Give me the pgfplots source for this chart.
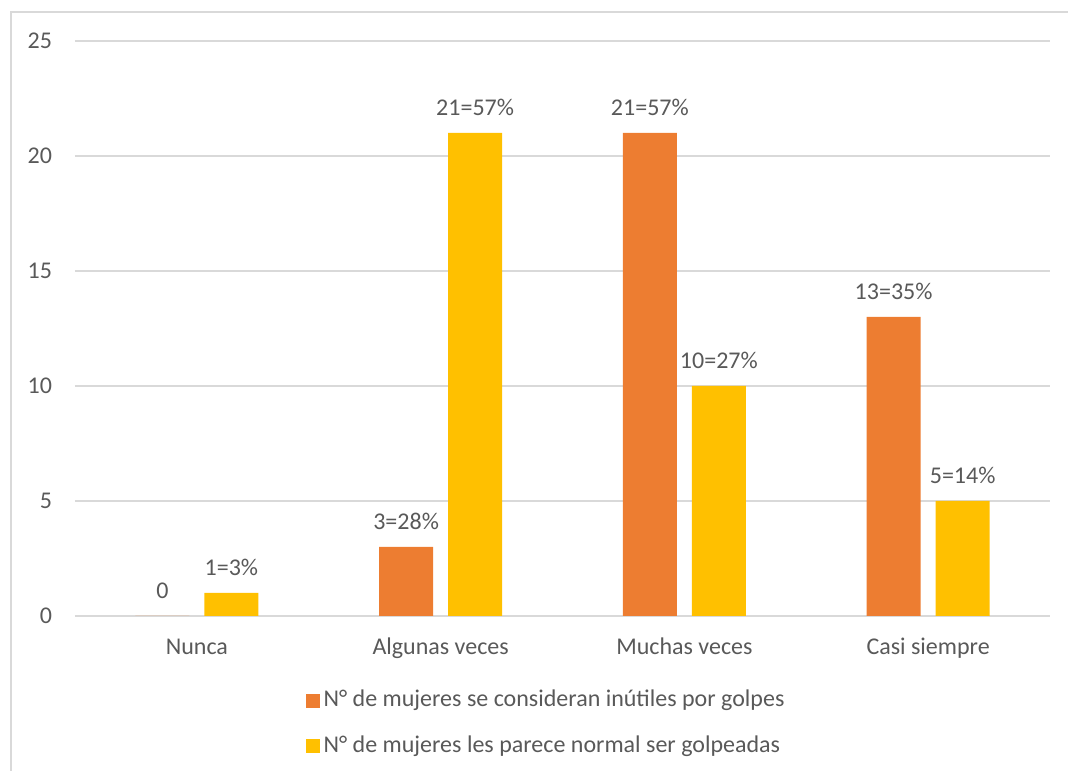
\documentclass[border=0pt]{standalone}
\usepackage{fontspec}
\setmainfont{Carlito}
\usepackage{pgfplots}
\pgfplotsset{compat=1.18}
\definecolor{barorange}{HTML}{ED7D31}
\definecolor{baryellow}{HTML}{FFC000}
\definecolor{txtgray}{HTML}{595959}
\definecolor{gridgray}{HTML}{D9D9D9}

\begin{document}
\begin{tikzpicture}
\begin{axis}[
    scale only axis,
    width=731.25pt, height=431.25pt,
    ybar, bar width=40.5pt,
    xmin=-0.5, xmax=3.5, ymin=0, ymax=25,
    enlargelimits=false,
    xtick={0,1,2,3},
    xticklabels={Nunca, Algunas veces, Muchas veces, Casi siempre},
    ytick={0,5,10,15,20,25},
    ymajorgrids,
    grid style={color=gridgray, line width=1.1pt},
    axis line style={draw=none},
    major tick length=0pt,
    tick style={draw=none},
    font=\fontsize{18pt}{22pt}\selectfont,
    /pgf/number format/assume math mode=true,
    tick label style={text=txtgray, inner sep=0pt},
    xticklabel style={anchor=base, yshift=-29pt},
    yticklabel style={anchor=east, xshift=-17pt},
    nodes near coords,
    point meta=explicit symbolic,
    every node near coord/.append style={text=txtgray, anchor=south, inner sep=0pt, yshift=13pt},
    clip=false,
    legend image code/.code={\fill[#1] (0pt,-5.25pt) rectangle (10.5pt,5.25pt);},
    legend style={at={(0.237,-0.187)}, anchor=west, draw=none, fill=none,
      inner sep=0pt, row sep=14pt, legend cell align=left, text=txtgray,
      nodes={inner xsep=2.5pt, inner ysep=1.5pt, text height=13pt, text depth=4pt}},
    legend columns=1,
]
\addplot[fill=barorange, draw=none, bar shift=-25.875pt] coordinates {
  (0,0) [0]
  (1,3) [3=28\%]
  (2,21) [21=57\%]
  (3,13) [13=35\%]
};
\addplot[fill=baryellow, draw=none, bar shift=25.875pt] coordinates {
  (0,1) [1=3\%]
  (1,21) [21=57\%]
  (2,10) [10=27\%]
  (3,5) [5=14\%]
};
\legend{N° de mujeres se consideran inútiles por golpes, N° de mujeres les parece normal ser golpeadas}
\end{axis}
\draw[gridgray, line width=1.1pt] (-48pt,-120pt) -- (-48pt,453pt) -- (750pt,453pt);
\pgfresetboundingbox
\useasboundingbox (-56.25pt,-116.25pt) rectangle (744.75pt,462pt);
\end{tikzpicture}
\end{document}
